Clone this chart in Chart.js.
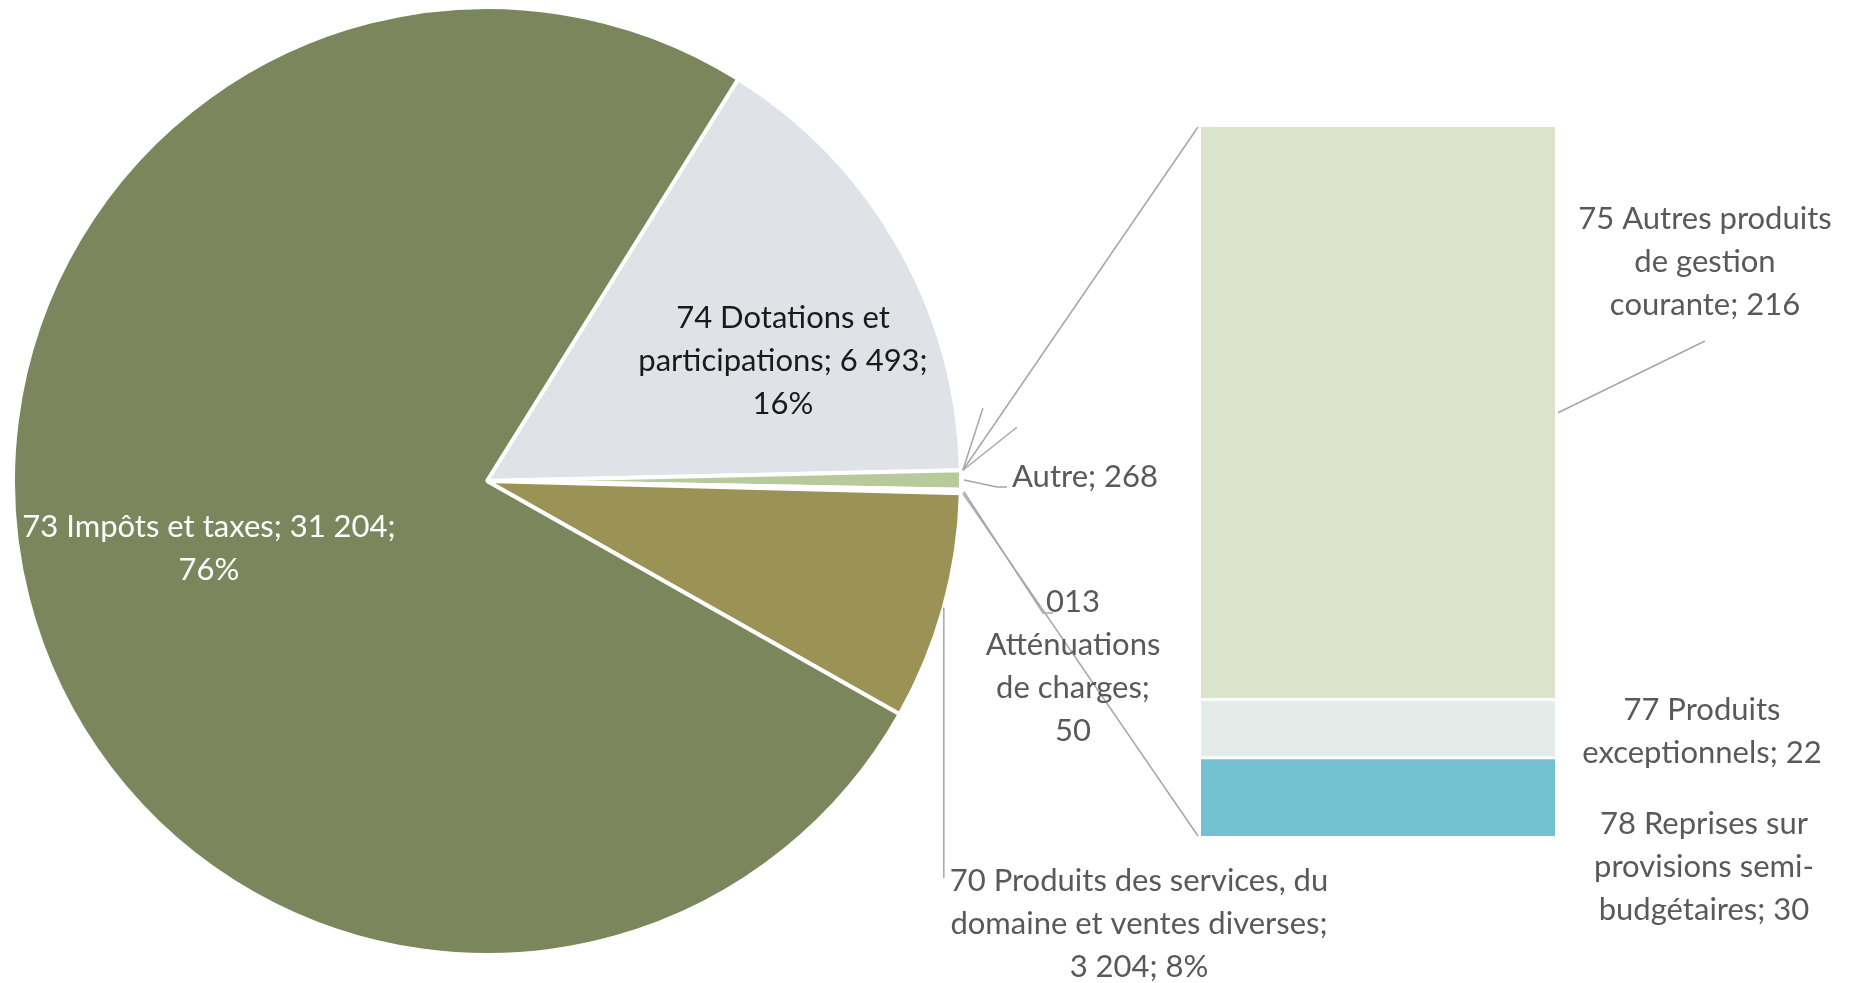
<!DOCTYPE html>
<html lang="fr">
<head>
<meta charset="UTF-8">
<title>Recettes de fonctionnement</title>
<script src="https://cdn.jsdelivr.net/npm/chart.js"></script>
<style>
    body { margin: 0; background: #fff; }
    #wrap { position: relative; width: 1860px; height: 983px; overflow: hidden; }
    #pieChart { position: absolute; left: 0; top: 0; }
    #barChart { position: absolute; left: 1201px; top: 127px; }
</style>
</head>
<body>
<div id="wrap">
    <canvas id="pieChart" width="1860" height="983"></canvas>
    <canvas id="barChart" width="354" height="709"></canvas>
</div>
<script>
// camembert principal, dans l'ordre horaire a partir du haut
const pieLabels = ["74 Dotations et participations", "Autre", "013 Atténuations de charges",
    "70 Produits des services, du domaine et ventes diverses", "73 Impôts et taxes"];
const pieValues = [6493, 268, 50, 3204, 31204];
const pieColors = ["#dfe2e7", "#b8c99b", "#f4f4f4", "#9a9355", "#7b865d"];

// detail de "Autre" (du bas vers le haut de la barre)
const barLabels = ["78 Reprises sur provisions semi-budgétaires", "77 Produits exceptionnels",
    "75 Autres produits de gestion courante"];
const barValues = [30, 22, 216];
const barColors = ["#74c1d1", "#e4ece9", "#dbe3cb"];

const GREY = "#595959";
const LINE = "#a6a6a6";
const FONT = "31px Lato";
const LH = 43;

// ou placer chaque etiquette (words = nombre de mots par ligne)
const pieLabelPos = [
    { x: 783, y: 318, align: "center", color: "#1a1a1a", words: [3, 2, 1], pct: true },
    { x: 1012, y: 477, align: "left", color: GREY, words: [2], pct: false },
    { x: 1073, y: 602, align: "center", color: GREY, words: [1, 1, 2, 1], pct: false },
    { x: 1139, y: 881, align: "center", color: GREY, words: [5, 4, 2], pct: true },
    { x: 209, y: 527, align: "center", color: "#ffffff", words: [5, 1], pct: true }
];
const barLabelPos = [
    { x: 1704, y: 824, words: [3, 2, 2] },
    { x: 1702, y: 710, words: [2, 2] },
    { x: 1705, y: 219, words: [3, 2, 2] }
];

const pieTotal = pieValues.reduce((a, b) => a + b, 0);
const barTotal = barValues.reduce((a, b) => a + b, 0);

function fmt(v) {
    return String(v).replace(/\B(?=(\d{3})+(?!\d))/g, "\u00a0");
}

function wrapLines(text, counts) {
    const tokens = [];
    text.split(" ").forEach(w => w.split(/(?<=-)/).forEach(t => tokens.push(t)));
    const lines = [];
    let k = 0;
    counts.forEach(n => {
        let s = "";
        for (let i = 0; i < n && k < tokens.length; i++, k++) {
            if (s && !s.endsWith("-")) s += " ";
            s += tokens[k];
        }
        lines.push(s);
    });
    return lines;
}

function drawText(ctx, lines, x, y, align, color) {
    ctx.save();
    ctx.font = FONT;
    ctx.fillStyle = color;
    ctx.textAlign = align;
    ctx.textBaseline = "middle";
    lines.forEach((l, i) => ctx.fillText(l, x, y + i * LH));
    ctx.restore();
}

function polyline(ctx, pts) {
    ctx.beginPath();
    ctx.moveTo(pts[0].x, pts[0].y);
    pts.slice(1).forEach(p => ctx.lineTo(p.x, p.y));
    ctx.stroke();
}

const barChart = new Chart(document.getElementById("barChart"), {
    type: "bar",
    data: {
        labels: [""],
        datasets: barValues.map((v, i) => ({
            label: barLabels[i],
            data: [v],
            backgroundColor: barColors[i],
            borderColor: "#ffffff",
            borderWidth: i === barValues.length - 1 ? 0 : { top: 3, left: 0, right: 0, bottom: 0 },
            borderSkipped: false,
            barPercentage: 1,
            categoryPercentage: 1
        }))
    },
    options: {
        responsive: false,
        animation: false,
        events: [],
        layout: { padding: 0 },
        plugins: { legend: { display: false }, tooltip: { enabled: false } },
        scales: {
            x: { display: false, stacked: true },
            y: { display: false, stacked: true, min: 0, max: barTotal }
        }
    }
});

const labelsPlugin = {
    id: "pieOfBar",
    afterDraw(chart) {
        const ctx = chart.ctx;
        const arcs = chart.getDatasetMeta(0).data;
        const edge = (arc, ang, dr) => ({
            x: arc.x + (arc.outerRadius + dr) * Math.cos(ang),
            y: arc.y + (arc.outerRadius + dr) * Math.sin(ang)
        });
        const mid = a => (a.startAngle + a.endAngle) / 2;

        ctx.save();
        ctx.strokeStyle = LINE;
        ctx.lineWidth = 1.5;

        // liaison camembert -> barre
        const other = arcs[1];
        const offX = barChart.canvas.offsetLeft, offY = barChart.canvas.offsetTop;
        const top = barChart.getDatasetMeta(barValues.length - 1).data[0];
        const bottom = barChart.getDatasetMeta(0).data[0];
        const barLeft = top.x - top.width / 2 + offX - 3;
        const p1 = edge(other, other.startAngle, 2);
        const p2 = edge(arcs[2], arcs[2].endAngle, 2);
        polyline(ctx, [p1, { x: barLeft, y: top.y + offY }]);
        polyline(ctx, [p2, { x: barLeft, y: bottom.base + offY }]);
        // petits traits d'etiquettes masquees
        polyline(ctx, [p1, { x: p1.x + 20, y: p1.y - 62 }]);
        polyline(ctx, [p1, { x: p1.x + 54, y: p1.y - 43 }]);

        // lignes de rappel
        const a1 = edge(other, mid(other), 3);
        polyline(ctx, [a1, { x: pieLabelPos[1].x - 15, y: pieLabelPos[1].y + 10 }, { x: pieLabelPos[1].x - 5, y: pieLabelPos[1].y + 10 }]);
        const a2 = edge(arcs[2], mid(arcs[2]), 3);
        polyline(ctx, [a2, { x: pieLabelPos[2].x - 30, y: pieLabelPos[2].y + 11 }, { x: pieLabelPos[2].x - 20, y: pieLabelPos[2].y + 11 }]);
        const a3 = edge(arcs[3], mid(arcs[3]), 0);
        polyline(ctx, [a3, { x: a3.x, y: pieLabelPos[3].y - 3 }]);
        const seg = barChart.getDatasetMeta(2).data[0];
        polyline(ctx, [{ x: seg.x + seg.width / 2 + offX + 3, y: (seg.y + seg.base) / 2 + offY },
            { x: barLabelPos[2].x, y: barLabelPos[2].y + 2 * LH + 36 }]);
        ctx.restore();

        // etiquettes du camembert
        pieValues.forEach((v, i) => {
            const p = pieLabelPos[i];
            const parts = [pieLabels[i], fmt(v)];
            if (p.pct) parts.push(Math.round(v / pieTotal * 100) + "%");
            drawText(ctx, wrapLines(parts.join("; "), p.words), p.x, p.y, p.align, p.color);
        });
        // etiquettes de la barre
        barValues.forEach((v, i) => {
            const p = barLabelPos[i];
            drawText(ctx, wrapLines(barLabels[i] + "; " + fmt(v), p.words), p.x, p.y, "center", GREY);
        });
    }
};

new Chart(document.getElementById("pieChart"), {
    type: "pie",
    data: {
        labels: pieLabels,
        datasets: [{
            data: pieValues,
            backgroundColor: pieColors,
            borderColor: "#ffffff",
            borderWidth: 4,
            hoverOffset: 0
        }]
    },
    options: {
        responsive: false,
        animation: false,
        events: [],
        rotation: 32,
        layout: { padding: { left: 11, right: 897, top: 5, bottom: 26 } },
        plugins: { legend: { display: false }, tooltip: { enabled: false } }
    },
    plugins: [labelsPlugin]
});
</script>
</body>
</html>
